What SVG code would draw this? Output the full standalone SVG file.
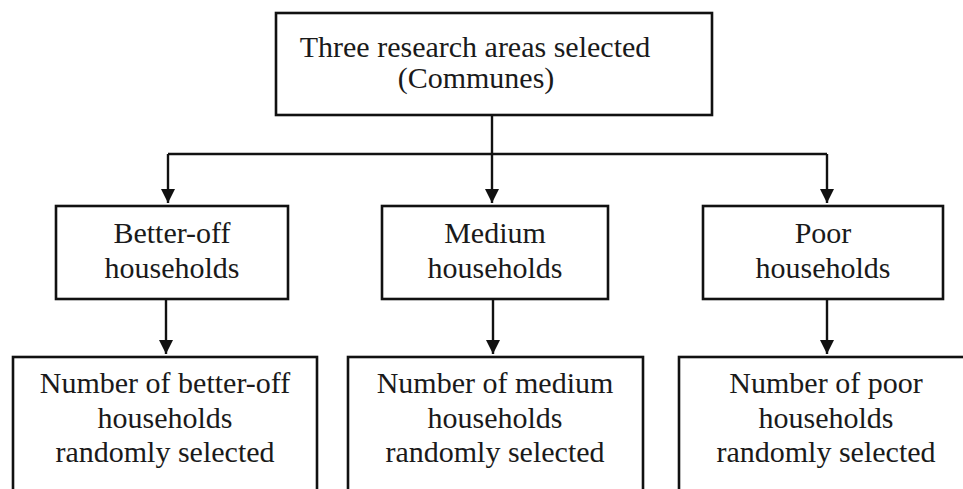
<svg xmlns="http://www.w3.org/2000/svg" width="963" height="489" viewBox="0 0 963 489">
  <style>
    .box { fill: #ffffff; stroke: #111111; stroke-width: 2.6; }
    .lbl { font-family: "Liberation Serif", "Times New Roman", serif; font-size: 30px; fill: #1a1a1a; text-anchor: middle; }
    .wire { fill: none; stroke: #111111; stroke-width: 2.4; }
  </style>
  <defs>
    <marker id="arrow" viewBox="0 0 14 14" refX="14" refY="7" markerWidth="14" markerHeight="14" markerUnits="userSpaceOnUse" orient="auto">
      <path d="M0,0 L14,7 L0,14 Z" fill="#111111"/>
    </marker>
  </defs>
  <rect width="963" height="489" fill="#ffffff"/>

  <!-- connectors -->
  <g id="connectors">
    <path class="wire" d="M492,115 V154"/>
    <path class="wire" d="M168,154 H827"/>
    <path class="wire" d="M168,154 V203" marker-end="url(#arrow)"/>
    <path class="wire" d="M492,154 V203" marker-end="url(#arrow)"/>
    <path class="wire" d="M827,154 V203" marker-end="url(#arrow)"/>
    <path class="wire" d="M166,299 V354" marker-end="url(#arrow)"/>
    <path class="wire" d="M493,299 V354" marker-end="url(#arrow)"/>
    <path class="wire" d="M827,299 V354" marker-end="url(#arrow)"/>
  </g>

  <!-- root -->
  <g id="communes">
    <rect class="box" x="276" y="13" width="436" height="102"/>
    <text class="lbl" x="475" y="57">Three research areas selected</text>
    <text class="lbl" x="476" y="88">(Communes)</text>
  </g>

  <!-- household groups -->
  <g id="better-off">
    <rect class="box" x="56" y="206" width="232" height="93"/>
    <text class="lbl" x="172" y="243">Better-off</text>
    <text class="lbl" x="172" y="278">households</text>
  </g>
  <g id="medium">
    <rect class="box" x="382" y="206" width="226" height="93"/>
    <text class="lbl" x="495" y="243">Medium</text>
    <text class="lbl" x="495" y="278">households</text>
  </g>
  <g id="poor">
    <rect class="box" x="703" y="206" width="240" height="93"/>
    <text class="lbl" x="823" y="243">Poor</text>
    <text class="lbl" x="823" y="278">households</text>
  </g>

  <!-- sampled households -->
  <g id="better-off-sample">
    <rect class="box" x="13" y="357" width="304" height="150"/>
    <text class="lbl" x="165" y="393">Number of better-off</text>
    <text class="lbl" x="165" y="428">households</text>
    <text class="lbl" x="165" y="462">randomly selected</text>
  </g>
  <g id="medium-sample">
    <rect class="box" x="348" y="357" width="295" height="150"/>
    <text class="lbl" x="495" y="393">Number of medium</text>
    <text class="lbl" x="495" y="428">households</text>
    <text class="lbl" x="495" y="462">randomly selected</text>
  </g>
  <g id="poor-sample">
    <rect class="box" x="679" y="357" width="300" height="150"/>
    <text class="lbl" x="826" y="393">Number of poor</text>
    <text class="lbl" x="826" y="428">households</text>
    <text class="lbl" x="826" y="462">randomly selected</text>
  </g>
</svg>
